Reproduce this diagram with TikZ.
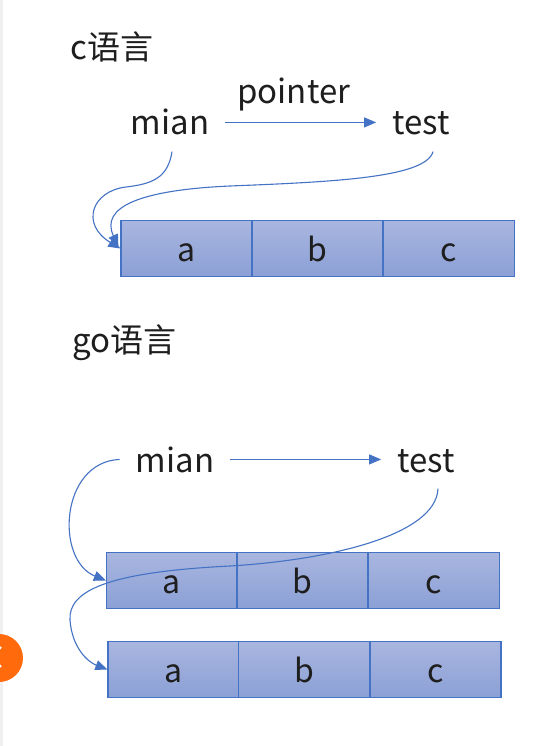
\documentclass[tikz,border=0pt]{standalone}
\usepackage{fontspec}
\setmainfont{Noto Sans CJK SC}
\usetikzlibrary{arrows.meta}

\definecolor{linkblue}{HTML}{4472C4}
\definecolor{celltop}{HTML}{A9B6DF}
\definecolor{cellbot}{HTML}{8BA0D6}
\definecolor{badge}{HTML}{FF6A0D}
\definecolor{textgray}{HTML}{1E1E1E}

\tikzset{
  cell/.style={draw=linkblue, line width=1.3pt, top color=celltop, bottom color=cellbot,
    minimum width=131pt, minimum height=56pt, inner sep=0pt, text height=25pt, text depth=0pt,
    font=\fontsize{32}{36}\selectfont, text=textgray},
  word/.style={anchor=base, inner sep=16pt, font=\fontsize{33}{38}\selectfont, text=textgray},
  title/.style={anchor=base west, inner sep=0pt, font=\fontsize{33}{38}\selectfont, text=textgray},
  link/.style={linkblue, line width=1.1pt, -{Triangle[length=12pt,width=10pt]}},
}

\begin{document}
\begin{tikzpicture}[x=1pt, y=-1pt]

\useasboundingbox[fill=white] (0,0) rectangle (551,746);
\fill[black!6] (0,0) rectangle (2.5,746);

%% c part
\node[title] (ctitle) at (70,60) {c语言};
\node[word] (mian1) at (170,135) {mian};
\node[word] (test1) at (421,135) {test};
\draw[link] (mian1.east) -- (mian1.east -| test1.west)
  node[midway, above=11pt, xshift=-7pt, inner sep=0pt, font=\fontsize{33}{38}\selectfont, text=textgray] (ptr) {pointer};

 \foreach \x/\t [count=\i] in {186.5/a, 317.5/b, 449/c}
  {
    \node[cell] (c\i) at (\x,248.5) {\t};
  }

\draw[link] ([xshift=2pt]mian1.south) .. controls (168,178) and (152,184) .. (126,187)
  .. controls (92,191) and (80,224) .. (c1.west);
\draw[link] ([xshift=12pt]test1.south) .. controls (426,178) and (330,182) .. (230,186)
  .. controls (140,190) and (100,207) .. ([xshift=-2pt, yshift=2pt]c1.west);

%% go part
\node[title] (gotitle) at (72,352) {go语言};
\node[word] (mian2) at (175,472) {mian};
\node[word] (test2) at (426,472) {test};
\draw[link] (mian2.east) -- (mian2.east -| test2.west);

 \foreach \x/\t [count=\i] in {172/a, 302.5/b, 434/c}
  {
    \node[cell] (g\i) at (\x,580.5) {\t};
    \node[cell] (h\i) at (\x+1.5,669.5) {\t};
  }

\draw[link] (mian2.west) .. controls (60,462) and (55,560) .. (g1.west);
\draw[link] ([xshift=12pt]test2.south) .. controls (436,535) and (330,560) .. (230,566)
  .. controls (110,572) and (68,590) .. (70,620)
  .. controls (72,648) and (88,662) .. (h1.west);

%% orange badge at the edge
\fill[badge] (-1,658) circle [radius=24];
\draw[white, line width=2pt] (1,647) -- (-8,657) -- (1,667);

\end{tikzpicture}
\end{document}
